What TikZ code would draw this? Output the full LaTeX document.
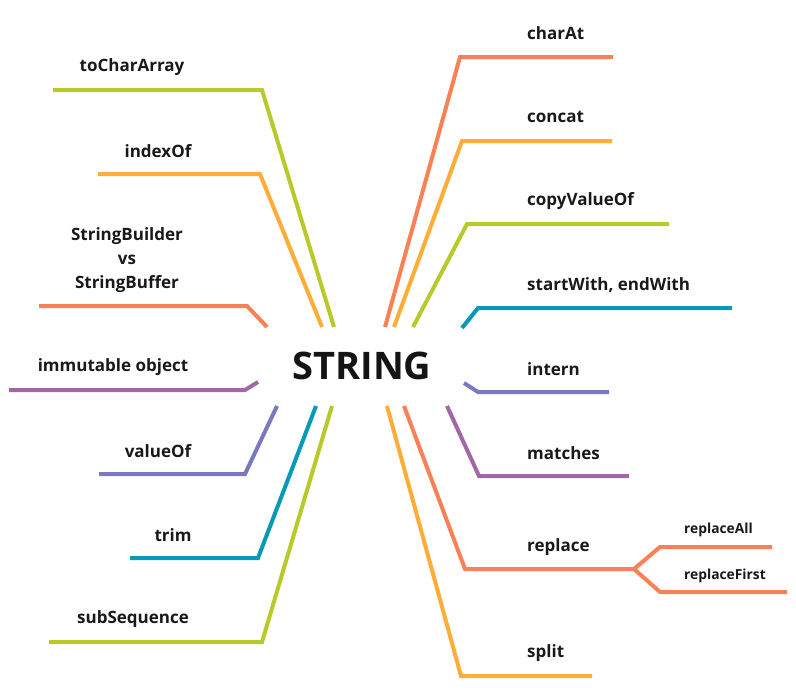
\documentclass[tikz,border=0pt]{standalone}
\usepackage{fontspec}
\setmainfont{Open Sans}
\definecolor{coral}{HTML}{FA8055}
\definecolor{amber}{HTML}{FDAD38}
\definecolor{lime}{HTML}{B8C92A}
\definecolor{teal}{HTML}{0699B8}
\definecolor{slate}{HTML}{7A79BF}
\definecolor{plum}{HTML}{A367A8}
\tikzset{
  branch/.style={line width=4pt, line join=miter},
  lbl/.style={font=\bfseries\fontsize{17}{24}\selectfont, text=black!90, inner sep=0pt},
  sublbl/.style={font=\bfseries\fontsize{13.8}{15}\selectfont, text=black!90, inner sep=0pt},
  title/.style={font=\bfseries\fontsize{38}{40}\selectfont, text=black!92, inner sep=0pt}
}
\begin{document}
\begin{tikzpicture}[x=1pt,y=-1pt]
\useasboundingbox (0,0) rectangle (796,689);
\node[title] (center) at (362,366) {STRING};
% left side
\node[lbl] (tca) at (132,67) {toCharArray};
\node[lbl] (idx) at (158,151) {indexOf};
\node[lbl, align=center] (sb) at (127,260) {StringBuilder\\vs\\StringBuffer};
\node[lbl] (imm) at (113,367) {immutable object};
\node[lbl] (val) at (158,451) {valueOf};
\node[lbl] (trm) at (173,535) {trim};
\node[lbl] (sub) at (133,619) {subSequence};
% right side
\node[lbl, anchor=west] (cha) at (527,33) {charAt};
\node[lbl, anchor=west] (cct) at (527,117) {concat};
\node[lbl, anchor=west] (cvo) at (527,201) {copyValueOf};
\node[lbl, anchor=west] (sw) at (527,285) {startWith, endWith};
\node[lbl, anchor=west] (itn) at (527,369) {intern};
\node[lbl, anchor=west] (mat) at (527,453) {matches};
\node[lbl, anchor=west] (rep) at (527,547) {replace};
\node[lbl, anchor=west] (spl) at (527,653) {split};
\node[sublbl, anchor=west] (ra) at (684,530) {replaceAll};
\node[sublbl, anchor=west] (rf) at (684,576) {replaceFirst};
% coordinates: left
\coordinate (tcaS) at (334,327); \coordinate (tcaB) at (262,90); \coordinate (tcaE) at (53,90);
\coordinate (idxS) at (322,327); \coordinate (idxB) at (260,174); \coordinate (idxE) at (98,174);
\coordinate (sbS) at (267,327); \coordinate (sbB) at (247,306); \coordinate (sbE) at (39,306);
\coordinate (immS) at (258,382); \coordinate (immB) at (245,390); \coordinate (immE) at (9,390);
\coordinate (valS) at (277,406); \coordinate (valB) at (245,474); \coordinate (valE) at (99,474);
\coordinate (trmS) at (316,406); \coordinate (trmB) at (258,558); \coordinate (trmE) at (130,558);
\coordinate (subS) at (332,406); \coordinate (subB) at (262,642); \coordinate (subE) at (49,642);
% coordinates: right
\coordinate (chaS) at (385,327); \coordinate (chaB) at (460,57); \coordinate (chaE) at (613,57);
\coordinate (cctS) at (394,327); \coordinate (cctB) at (462,141); \coordinate (cctE) at (612,141);
\coordinate (cvoS) at (413,327); \coordinate (cvoB) at (467,224); \coordinate (cvoE) at (669,224);
\coordinate (swS) at (462,328); \coordinate (swB) at (478,308); \coordinate (swE) at (732,308);
\coordinate (itnS) at (464,383); \coordinate (itnB) at (478,392); \coordinate (itnE) at (609,392);
\coordinate (matS) at (447,406); \coordinate (matB) at (479,476); \coordinate (matE) at (629,476);
\coordinate (repS) at (404,406); \coordinate (repB) at (465,569); \coordinate (repE) at (634,569);
\coordinate (splS) at (387,406); \coordinate (splB) at (461,676); \coordinate (splE) at (592,676);
\coordinate (raB) at (660,547); \coordinate (raE) at (772,547);
\coordinate (rfB) at (660,592); \coordinate (rfE) at (787,592);
% branches
\draw[branch, lime] (tcaS) -- (tcaB) -- (tcaE);
\draw[branch, amber] (idxS) -- (idxB) -- (idxE);
\draw[branch, coral] (sbS) -- (sbB) -- (sbE);
\draw[branch, plum] (immS) -- (immB) -- (immE);
\draw[branch, slate] (valS) -- (valB) -- (valE);
\draw[branch, teal] (trmS) -- (trmB) -- (trmE);
\draw[branch, lime] (subS) -- (subB) -- (subE);
\draw[branch, coral] (chaS) -- (chaB) -- (chaE);
\draw[branch, amber] (cctS) -- (cctB) -- (cctE);
\draw[branch, lime] (cvoS) -- (cvoB) -- (cvoE);
\draw[branch, teal] (swS) -- (swB) -- (swE);
\draw[branch, slate] (itnS) -- (itnB) -- (itnE);
\draw[branch, plum] (matS) -- (matB) -- (matE);
\draw[branch, coral] (repS) -- (repB) -- (repE);
\draw[branch, amber] (splS) -- (splB) -- (splE);
\draw[branch, coral] (repE) -- (raB) -- (raE);
\draw[branch, coral] (repE) -- (rfB) -- (rfE);
\end{tikzpicture}
\end{document}
